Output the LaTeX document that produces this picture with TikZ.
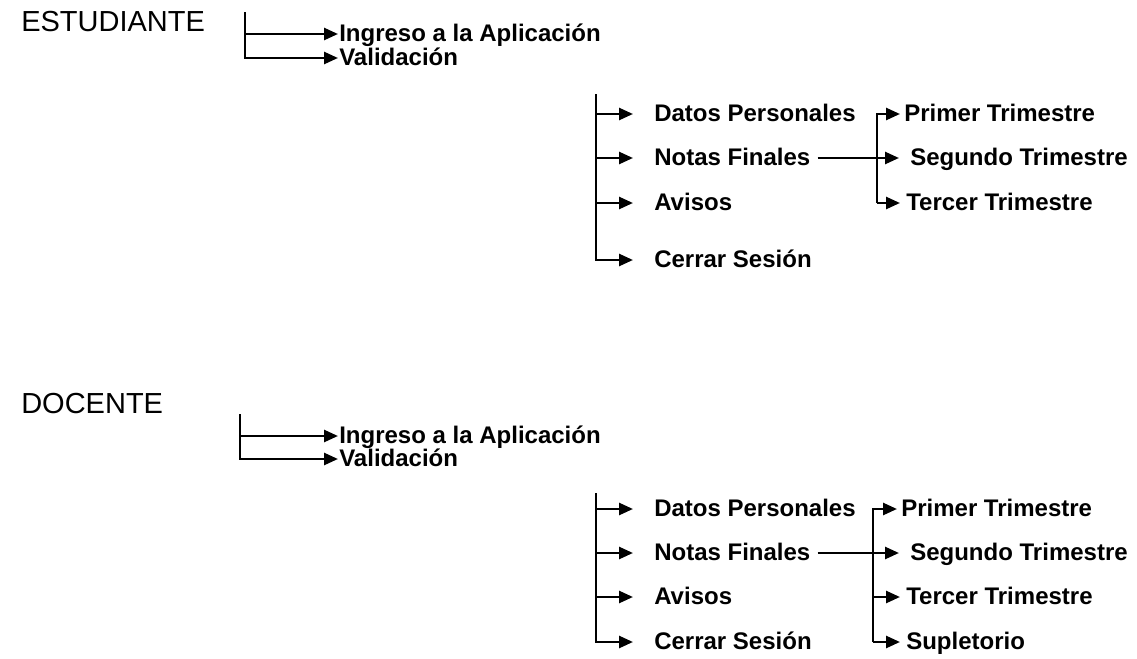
\documentclass[tikz,border=0pt]{standalone}
\usepackage{fontspec}
\setmainfont{Liberation Sans}
\usetikzlibrary{arrows.meta}
\begin{document}
\begin{tikzpicture}[x=0.5pt,y=-0.5pt,line width=1.3pt,
  hd/.style={anchor=west,inner sep=0pt,text height=0.72em,text depth=0pt,font=\fontsize{14.5}{16}\selectfont},
  lbl/.style={anchor=west,inner sep=0pt,text height=0.72em,text depth=0pt,font=\fontsize{12}{14}\selectfont\bfseries},
  arr/.style={-{Triangle[length=7pt,width=6pt]}}]
\useasboundingbox (0,0) rectangle (1137,659);

        \begin{scope}[]
        \node[hd] (est) at (20,24) {ESTUDIANTE};
        \coordinate (ba1) at (245,12);
        \node[lbl] (inga) at (338,34) {Ingreso a la Aplicación};
        \node[lbl] (vala) at (338,58) {Validación};
        \draw[arr] (ba1) |- (vala.west);
        \draw[arr] (ba1 |- inga.west) -- (inga.west);

        \coordinate (ba2) at (596,94);
        \node[lbl] (data) at (653,114) {Datos Personales};
        \node[lbl] (nota) at (653,158) {Notas Finales};
        \node[lbl] (avia) at (653,203) {Avisos};
        \node[lbl] (cera) at (653,260) {Cerrar Sesión};
        \draw[arr,shorten >=10pt] (ba2) |- (cera.west);
        \draw[arr,shorten >=10pt] (ba2 |- data.west) -- (data.west);
        \draw[arr,shorten >=10pt] (ba2 |- nota.west) -- (nota.west);
        \draw[arr,shorten >=10pt] (ba2 |- avia.west) -- (avia.west);

        \coordinate (ba3) at (877,0);
        \node[lbl] (pria) at (903,114) {Primer Trimestre};
        \node[lbl] (sega) at (909,158) {Segundo Trimestre};
        \node[lbl] (tera) at (905,203) {Tercer Trimestre};
        \draw[arr,shorten >=1.5pt] (ba3 |- tera.west) |- (pria.west);
        \draw[arr,shorten >=2.5pt] (ba3 |- tera.west) -- (tera.west);
        \draw[arr,shorten <=3pt,shorten >=5pt] (nota.east) -- (sega.west);
        \end{scope}

        \begin{scope}[]
        \node[hd] (doc) at (20,406) {DOCENTE};
        \coordinate (bb1) at (240,414);
        \node[lbl] (ingb) at (338,436) {Ingreso a la Aplicación};
        \node[lbl] (valb) at (338,459) {Validación};
        \draw[arr] (bb1) |- (valb.west);
        \draw[arr] (bb1 |- ingb.west) -- (ingb.west);

        \coordinate (bb2) at (596,493);
        \node[lbl] (datb) at (653,509) {Datos Personales};
        \node[lbl] (notb) at (653,553) {Notas Finales};
        \node[lbl] (avib) at (653,597) {Avisos};
        \node[lbl] (cerb) at (653,642) {Cerrar Sesión};
        \draw[arr,shorten >=10pt] (bb2) |- (cerb.west);
        \draw[arr,shorten >=10pt] (bb2 |- datb.west) -- (datb.west);
        \draw[arr,shorten >=10pt] (bb2 |- notb.west) -- (notb.west);
        \draw[arr,shorten >=10pt] (bb2 |- avib.west) -- (avib.west);

        \coordinate (bb3) at (873,0);
        \node[lbl] (prib) at (900,509) {Primer Trimestre};
        \node[lbl] (segb) at (909,553) {Segundo Trimestre};
        \node[lbl] (terb) at (905,597) {Tercer Trimestre};
        \node[lbl] (supb) at (905,642) {Supletorio};
        \draw[arr,shorten >=1.5pt] (bb3 |- supb.west) |- (prib.west);
        \draw[arr,shorten >=2.5pt] (bb3 |- terb.west) -- (terb.west);
        \draw[arr,shorten >=2.5pt] (bb3 |- supb.west) -- (supb.west);
        \draw[arr,shorten <=3pt,shorten >=5pt] (notb.east) -- (segb.west);
        \end{scope}
\end{tikzpicture}
\end{document}
